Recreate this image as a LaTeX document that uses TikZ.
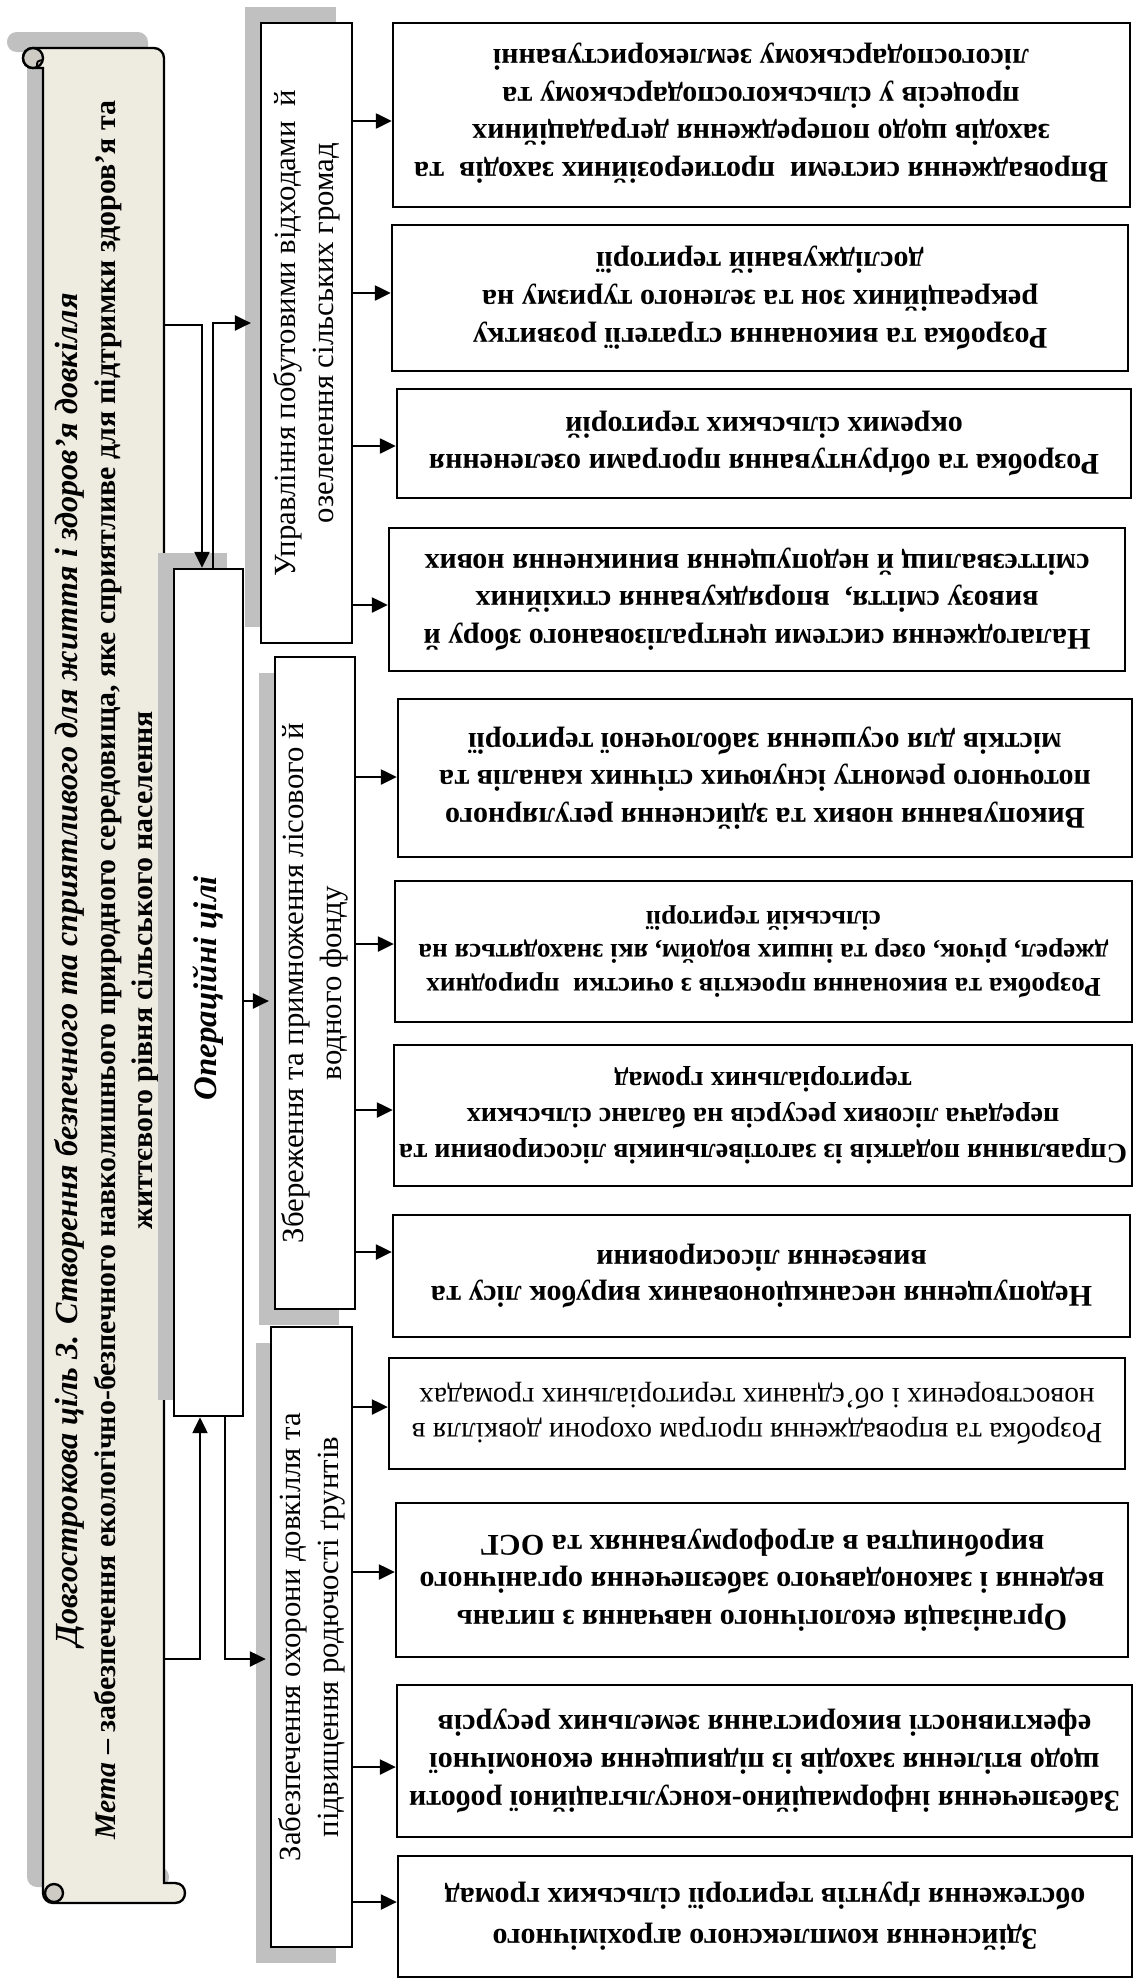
\documentclass[tikz,border=0pt]{standalone}
\usepackage{fontspec}
\setmainfont{Liberation Serif}
\usetikzlibrary{arrows.meta,fit,calc}
\definecolor{scrollfill}{RGB}{238,236,225}
\definecolor{curlfill}{RGB}{205,203,195}
\definecolor{shadowc}{RGB}{192,192,192}
\newcommand\scrollpath{(33,48) [rounded corners=4.3pt] -- (164,48) -- (164,70) [sharp corners] -- (164,1883) -- (175,1883) .. controls (188.3,1883) and (188.3,1903) .. (175,1903) [rounded corners=4.3pt] -- (43,1903) -- (43,1880) [sharp corners] -- (43,68) -- (33,68) .. controls (19.7,68) and (19.7,48) .. (33,48) -- cycle}
\begin{document}
\begin{tikzpicture}[x=0.4257pt,y=-0.4257pt,
  box/.style={draw, line width=1pt, fill=white, inner sep=0pt},
  arr/.style={line width=0.9pt, -{Triangle[length=6.8pt,width=6.4pt]}},
  ln/.style={line width=0.9pt},
  rtxt/.style={rotate=180, align=center, inner sep=0pt, font=\fontsize{12.8}{16}\selectfont\bfseries},
  mtxt/.style={rotate=90, align=center, inner sep=0pt, font=\fontsize{13.1}{16.1}\selectfont},
]
\useasboundingbox (0,0) rectangle (1133,1978);
\fill[white] (0,0) rectangle (1133,1978);

% ---- scroll ----
\fill[shadowc, shift={(-16,-16)}] \scrollpath;
\draw[line width=1pt, fill=scrollfill] \scrollpath;
\draw[line width=1pt, fill=curlfill] (33,58) circle[radius=10];
\draw[line width=0.8pt] (37,67) .. controls (37,61) .. (43,60);
\draw[line width=1pt, fill=curlfill] (54,1893) circle[radius=9];
\draw[line width=0.8pt] (43,1893) -- (43,1880);
\node[fit={(43,48) (164,1883)}, inner sep=0pt] (scroll) {};
\node[rotate=90, align=center, inner sep=0pt, font=\fontsize{12.7}{15.9}\selectfont\bfseries] (scrolltxt) at (107,970)
 {{\fontsize{13.7}{15.9}\selectfont\itshape Довгострокова ціль 3. Створення безпечного та сприятливого для життя і здоров’я довкілля}\\
  {\itshape Мета} – забезпечення екологічно-безпечного навколишнього природного середовища, яке сприятливе для підтримки здоров’я та\\
  життєвого рівня сільського населення};

% ---- shadows of middle boxes ----
\fill[shadowc] (158,553) rectangle (227,1400);
\fill[shadowc] (245,7) rectangle (336,627);
\fill[shadowc] (259,673) rectangle (339,1325);
\fill[shadowc] (256,1343) rectangle (336,1963);

% ---- middle boxes ----
\node[box, fit={(174,569) (243,1416)}] (ops) {};
\node[box, fit={(261,23) (352,643)}] (g1) {};
\node[box, fit={(275,657) (355,1309)}] (g2) {};
\node[box, fit={(271,1327) (352,1947)}] (g3) {};

\node[rotate=90, inner sep=0pt, font=\fontsize{14}{16}\selectfont\bfseries\itshape] (opst) at (208,988) {Операційні цілі};
\node[mtxt] (g1t) at (g1) {Управління побутовими відходами\ \ й\\ озеленення сільських громад};
\node[mtxt] (g2t) at (g2) {Збереження та примноження лісового й\\ водного фонду};
\node[mtxt] (g3t) at (g3) {Забезпечення охорони довкілля та\\ підвищення родючості ґрунтів};

% ---- right boxes ----
\node[box, fit={(393,23) (1130,207)}] (a1) {};
\node[box, fit={(392,225) (1128,371)}] (a2) {};
\node[box, fit={(397,389) (1131,498)}] (a3) {};
\node[box, fit={(389,528) (1125,671)}] (a4) {};
\node[box, fit={(398,699) (1132,857)}] (b1) {};
\node[box, fit={(395,881) (1132,1022)}] (b2) {};
\node[box, fit={(394,1045) (1132,1186)}] (b3) {};
\node[box, fit={(393,1215) (1130,1337)}] (b4) {};
\node[box, fit={(389,1358) (1125,1469)}] (c1) {};
\node[box, fit={(396,1503) (1128,1657)}] (c2) {};
\node[box, fit={(397,1685) (1132,1837)}] (c3) {};
\node[box, fit={(398,1856) (1132,1977)}] (c4) {};

\node[rtxt] (a1t) at (761,113) {Впровадження системи\ \ протиерозійних заходів\ \ та\\ заходів щодо попередження деградаційних\\ процесів у сільськогосподарському та\\ лісогосподарському землекористуванні};
\node[rtxt] (a2t) at (a2) {Розробка та виконання стратегії розвитку\\ рекреаційних зон та зеленого туризму на\\ досліджуваній території};
\node[rtxt] (a3t) at (a3) {Розробка та обґрунтування програми озеленення\\ окремих сільських територій};
\node[rtxt] (a4t) at (a4) {Налагодження системи централізованого збору й\\ вивозу сміття,\ \ впорядкування стихійних\\ сміттєзвалищ й недопущення виникнення нових};
\node[rtxt] (b1t) at (b1) {Викопування нових та здійснення регулярного\\ поточного ремонту існуючих стічних каналів та\\ містків для осушення заболоченої території};
\node[rtxt, font=\fontsize{11.6}{14.3}\selectfont\bfseries] (b2t) at (b2) {Розробка та виконання проєктів з очистки\ \ природних\\ джерел, річок, озер та інших водойм, які знаходяться на\\ сільській території};
\node[rtxt, font=\fontsize{12}{15.3}\selectfont\bfseries] (b3t) at (b3) {Справляння податків із заготівельників лісосировини та\\ передача лісових ресурсів на баланс сільських\\ територіальних громад};
\node[rtxt, font=\fontsize{12.8}{15}\selectfont\bfseries] (b4t) at (b4) {Недопущення несанкціонованих вирубок лісу та\\ вивезення лісосировини};
\node[rtxt, font=\fontsize{12.5}{15}\selectfont] (c1t) at (c1) {Розробка та впровадження програм охорони довкілля в\\ новостворених і об’єднаних територіальних громадах};
\node[rtxt] (c2t) at (c2) {Організація екологічного навчання з питань\\ ведення і законодавчого забезпечення органічного\\ виробництва в агроформуваннях та ОСГ};
\node[rtxt] (c3t) at (c3) {Забезпечення інформаційно-консультаційної роботи\\ щодо втілення заходів із підвищення економічної\\ ефективності використання земельних ресурсів};
\node[rtxt, font=\fontsize{12.8}{17.5}\selectfont\bfseries] (c4t) at (c4) {Здійснення комплексного агрохімічного\\ обстеження ґрунтів території сільських громад};

% ---- connectors from the scroll ----
\coordinate (k1) at (202,325);
\coordinate (k2) at (213,323);
\coordinate (k3) at (200,1659);
\coordinate (k4) at (225,1659);
\draw[arr] (scroll.east |- k1) -- (k1) -- (k1 |- ops.north);
\draw[arr, shorten >=3.8pt] (k2 |- ops.north) -- (k2) -- (g1.west |- k2);
\draw[arr] (scroll.east |- k3) -- (k3) -- (k3 |- ops.south);
\draw[arr, shorten >=1.7pt] (k4 |- ops.south) -- (k4) -- (g3.west |- k4);
\draw[arr, shorten >=2.1pt] (ops.east |- 0,1001) -- (g2.west |- 0,1001);

% ---- arrows to right boxes ----
\draw[arr] (g1.east |- 0,121) -- (a1.west |- 0,121);
\draw[arr] (g1.east |- 0,293) -- (a2.west |- 0,293);
\draw[arr] (g1.east |- 0,446) -- (a3.west |- 0,446);
\draw[arr] (g1.east |- 0,605) -- (a4.west |- 0,605);
\draw[arr] (g2.east |- 0,777) -- (b1.west |- 0,777);
\draw[arr] (g2.east |- 0,944) -- (b2.west |- 0,944);
\draw[arr] (g2.east |- 0,1110) -- (b3.west |- 0,1110);
\draw[arr] (g2.east |- 0,1252) -- (b4.west |- 0,1252);
\draw[arr] (g3.east |- 0,1407) -- (c1.west |- 0,1407);
\draw[arr] (g3.east |- 0,1572) -- (c2.west |- 0,1572);
\draw[arr] (g3.east |- 0,1767) -- (c3.west |- 0,1767);
\draw[arr] (g3.east |- 0,1902) -- (c4.west |- 0,1902);
\end{tikzpicture}
\end{document}
